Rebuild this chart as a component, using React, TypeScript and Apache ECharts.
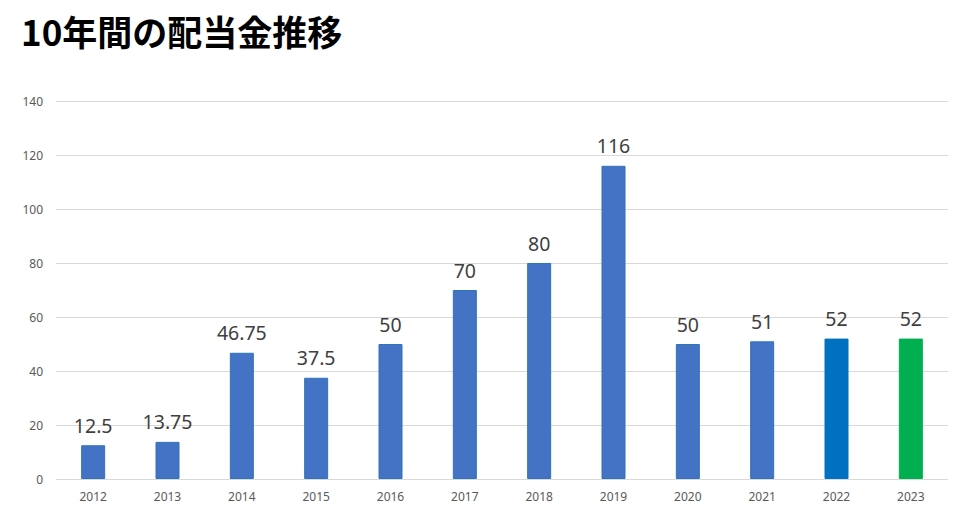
import React, { useEffect, useRef } from "react";
import * as echarts from "echarts";

const title = "10年間の配当金推移";
const years = ["2012", "2013", "2014", "2015", "2016", "2017", "2018", "2019", "2020", "2021", "2022", "2023"];
const dividends = [12.5, 13.75, 46.75, 37.5, 50, 70, 80, 116, 50, 51, 52, 52];
const barColors = ["#4472C4", "#4472C4", "#4472C4", "#4472C4", "#4472C4", "#4472C4", "#4472C4", "#4472C4", "#4472C4", "#4472C4", "#0070C0", "#00B050"];
const borderColors = ["#2E75B6", "#2E75B6", "#2E75B6", "#2E75B6", "#2E75B6", "#2E75B6", "#2E75B6", "#2E75B6", "#2E75B6", "#2E75B6", "#0070C0", "#00B050"];

export default function App() {
  const ref = useRef<HTMLDivElement>(null);
  useEffect(() => {
    if (!ref.current) return;
    const chart = echarts.init(ref.current, undefined, { renderer: "svg" });
    chart.setOption({
      animation: false,
      backgroundColor: "#ffffff",
      title: {
        text: title,
        left: 16,
        top: 8,
        textStyle: {
          fontFamily: "Noto Sans CJK JP",
          fontWeight: "bold",
          fontSize: 35,
          color: "#000000",
        },
      },
      grid: { left: 56, right: 12, top: 101, bottom: 33, containLabel: false },
      xAxis: {
        type: "category",
        data: years,
        axisLine: { show: true, lineStyle: { color: "#d9d9d9" } },
        axisTick: { show: false },
        axisLabel: { color: "#595959", fontSize: 12, fontFamily: "Noto Sans", margin: 11 },
      },
      yAxis: {
        type: "value",
        min: 0,
        max: 140,
        interval: 20,
        axisLine: { show: false },
        axisTick: { show: false },
        axisLabel: { color: "#595959", fontSize: 12, fontFamily: "Noto Sans", margin: 13 },
        splitLine: { lineStyle: { color: "#d9d9d9", width: 1 } },
      },
      series: [
        {
          type: "bar",
          barWidth: 24,
          data: dividends.map((v, i) => ({
            value: v,
            itemStyle: { color: barColors[i], borderColor: borderColors[i], borderWidth: 1 },
          })),
          label: {
            show: true,
            position: "top",
            distance: 10,
            color: "#404040",
            fontSize: 19.5,
            fontFamily: "Noto Sans",
          },
        },
      ],
    });
    return () => chart.dispose();
  }, []);
  return <div ref={ref} style={{ width: 960, height: 512, position: "absolute", left: 0, top: 0 }} />;
}
